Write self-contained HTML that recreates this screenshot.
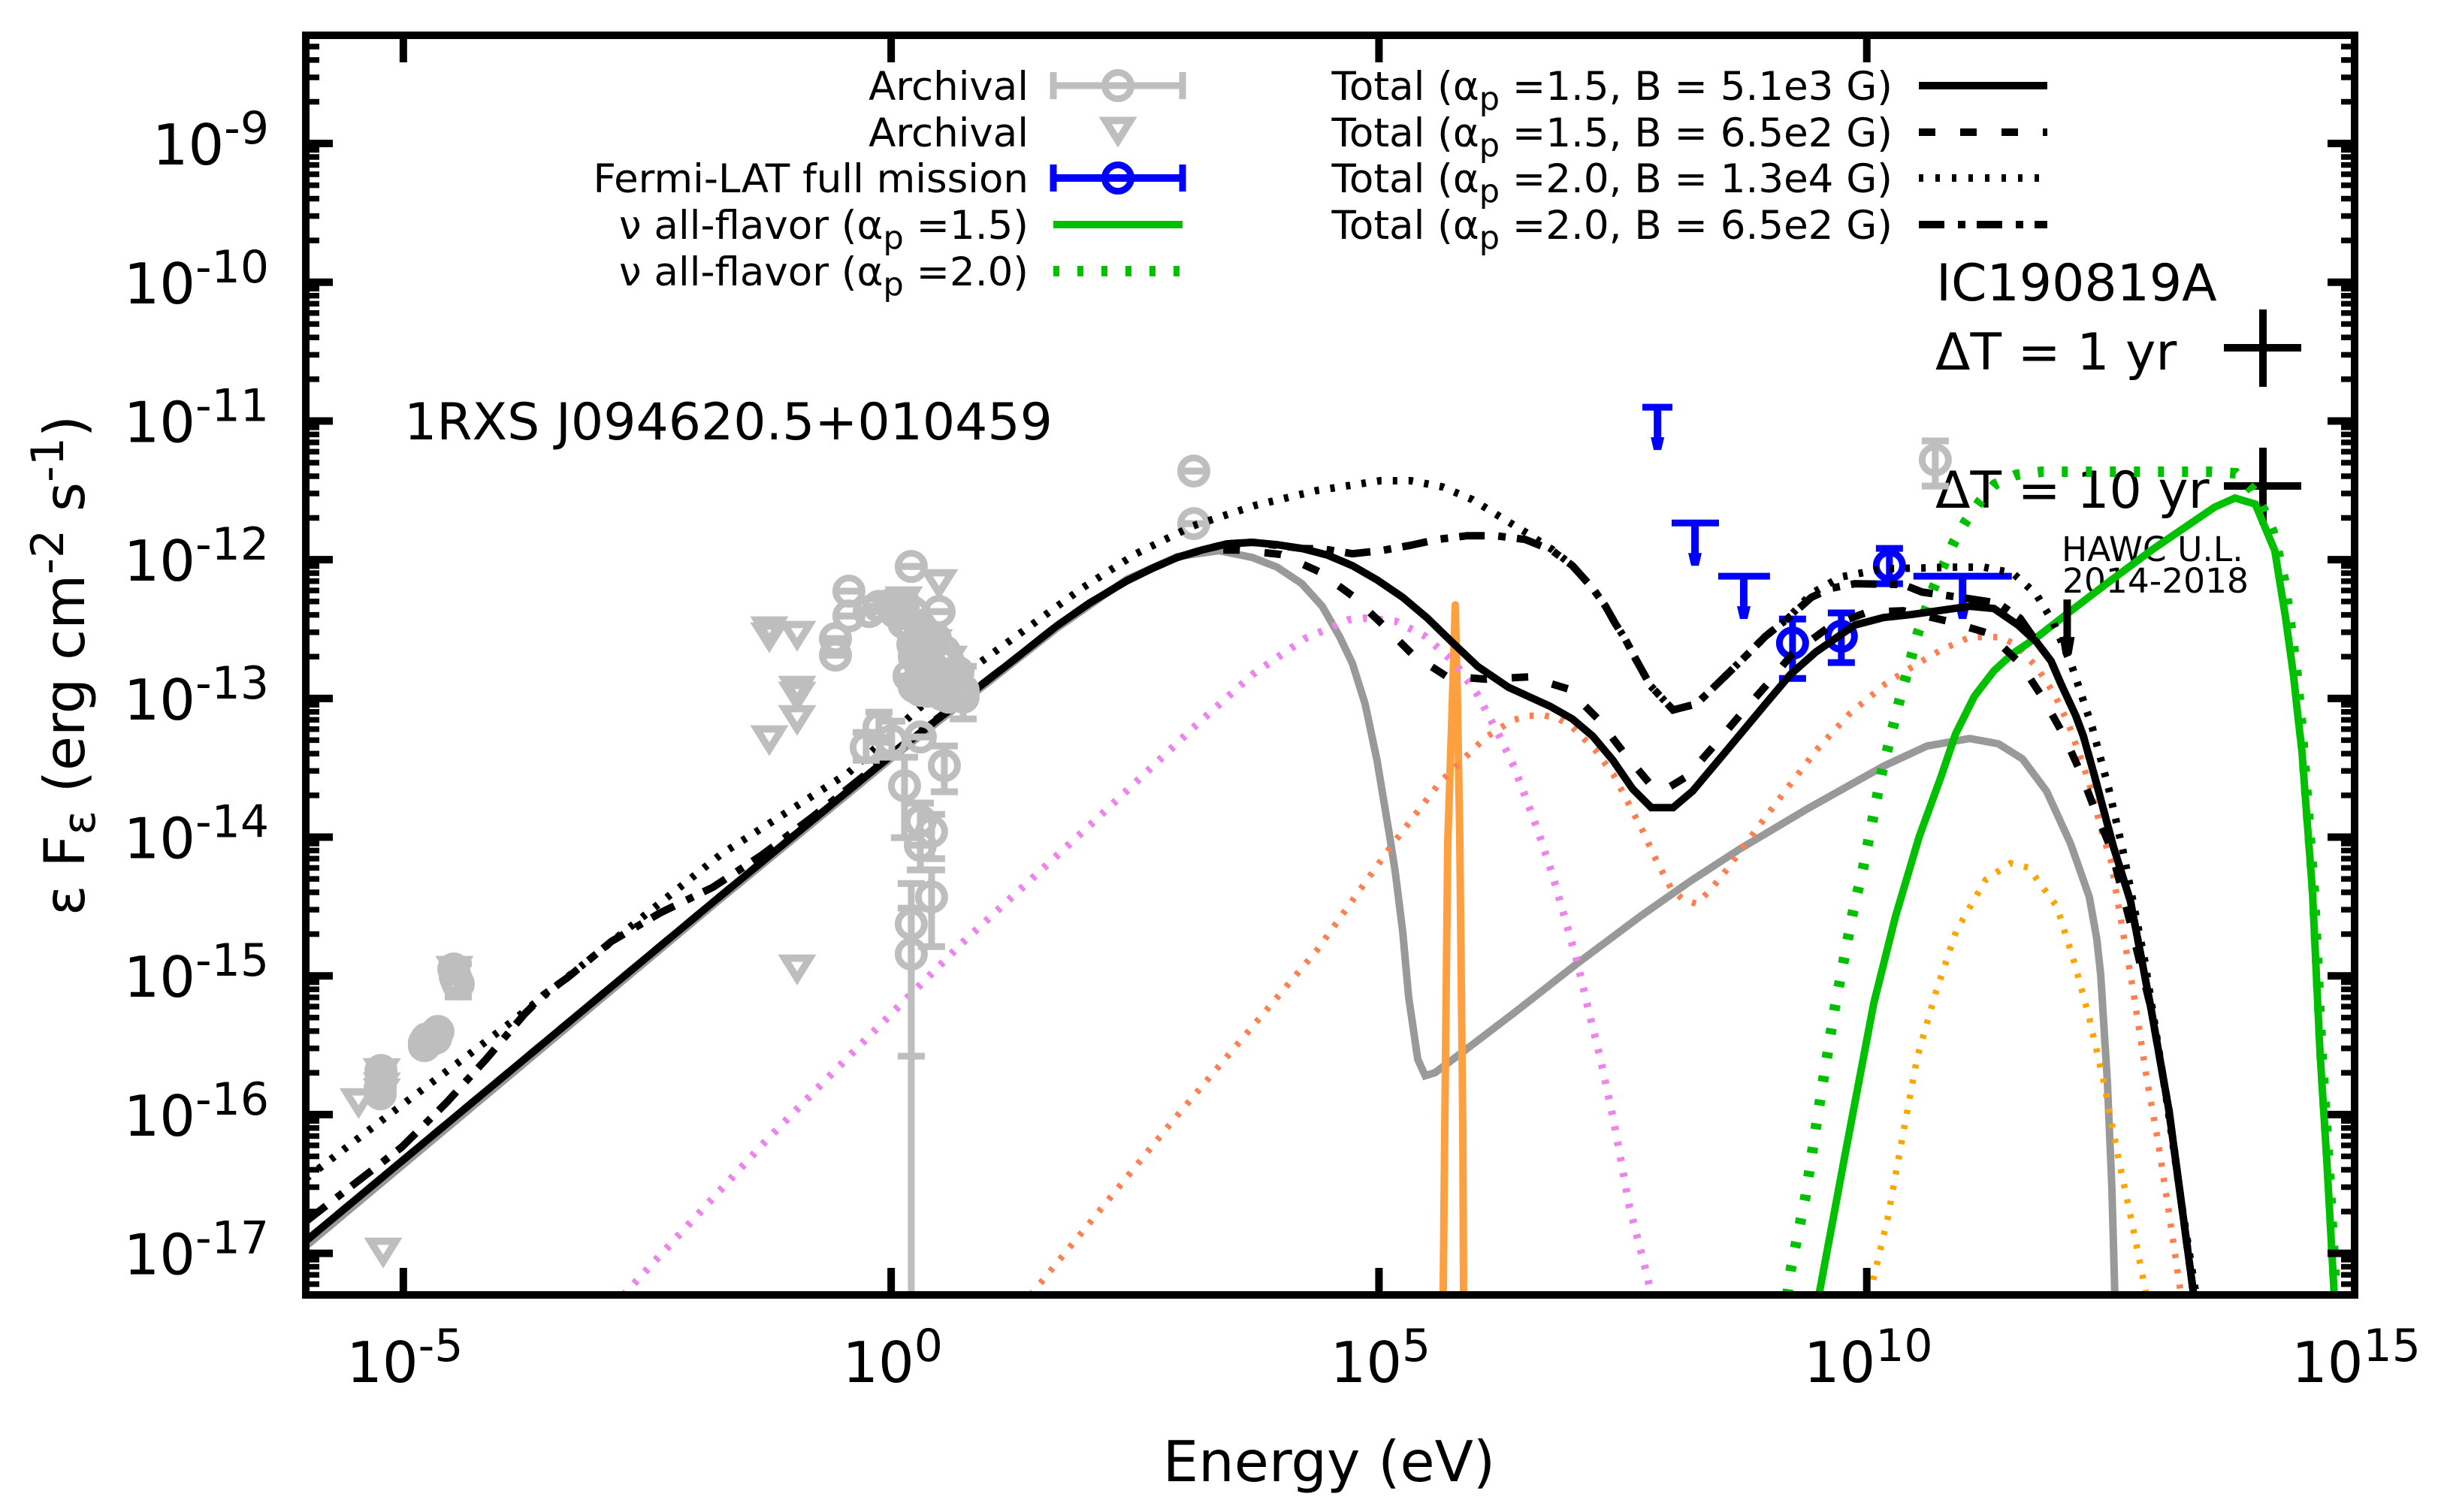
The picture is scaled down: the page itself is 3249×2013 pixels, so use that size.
<!DOCTYPE html>
<html lang="en">
<head>
<meta charset="utf-8">
<title>1RXS J094620.5+010459 SED</title>
<style>
html,body{margin:0;padding:0;background:#fff;}
svg{display:block;}
text{font-family:"DejaVu Sans","Liberation Sans",sans-serif;fill:#000;}
.leg{font-size:53px;text-anchor:end;}
.big{font-size:68px;}
.hawc{font-size:45.5px;}
.axt{font-size:75px;}
</style>
</head>
<body>
<svg id="chart" xmlns="http://www.w3.org/2000/svg" width="3249" height="2013" viewBox="0 0 3249 2013">
  <defs><clipPath id="plot-clip"><rect x="412" y="52" width="2717" height="1667"/></clipPath></defs>
  <rect x="0" y="0" width="3249" height="2013" fill="#fff"/>

  <g id="annotations">
    <text class="big" x="538" y="585">1RXS J094620.5+010459</text>
    <text class="big" x="2577" y="400">IC190819A</text>
    <text class="big" x="2576" y="492">ΔT = 1 yr</text>
    <text class="big" x="2576" y="676">ΔT = 10 yr</text>
    <text class="hawc" x="2744" y="747">HAWC U.L.</text>
    <text class="hawc" x="2745" y="789">2014-2018</text>
    <g stroke="#000" stroke-width="10">
      <line x1="2960" y1="463" x2="3063" y2="463"/><line x1="3012" y1="412" x2="3012" y2="515"/>
    </g>
    <g stroke="#000" stroke-width="10">
      <line x1="2960" y1="647" x2="3063" y2="647"/><line x1="3012" y1="596" x2="3012" y2="698"/>
    </g>
  </g>

  <g id="marks-under" clip-path="url(#plot-clip)"></g>
  <g id="curves" clip-path="url(#plot-clip)"></g>
  <g id="marks-over" clip-path="url(#plot-clip)"></g>

  <g>
    <text class="leg" x="1369" y="133">Archival</text>
    <text class="leg" x="1369" y="195">Archival</text>
    <text class="leg" x="1369" y="256">Fermi-LAT full mission</text>
    <text class="leg" x="1369" y="318">ν all-flavor (α<tspan font-size="43" dy="13">p</tspan><tspan dy="-13"> =1.5)</tspan></text>
    <text class="leg" x="1369" y="380">ν all-flavor (α<tspan font-size="43" dy="13">p</tspan><tspan dy="-13"> =2.0)</tspan></text>
    <g stroke="#bebebe" stroke-width="9" fill="none">
      <line x1="1402" y1="114" x2="1574" y2="114"/><line x1="1402" y1="96" x2="1402" y2="132"/><line x1="1574" y1="96" x2="1574" y2="132"/><circle cx="1488" cy="114" r="17.5"/>
    </g>
    <polygon points="1471.2,160.4 1504.8,160.4 1488,187.3" fill="none" stroke="#bebebe" stroke-width="9.7"/>
    <g stroke="#0000ff" stroke-width="9" fill="none">
      <line x1="1402" y1="237" x2="1574" y2="237" stroke-width="10"/><line x1="1402" y1="219" x2="1402" y2="255"/><line x1="1574" y1="219" x2="1574" y2="255"/><circle cx="1488" cy="237" r="17.5"/>
    </g>
    <line x1="1402" y1="299" x2="1574" y2="299" stroke="#00c000" stroke-width="10"/>
    <line x1="1402" y1="361" x2="1574" y2="361" stroke="#00c000" stroke-width="14" stroke-dasharray="8 24"/>
  </g>

  <g>
    <text class="leg" x="2519" y="133">Total (α<tspan font-size="43" dy="13">p</tspan><tspan dy="-13"> =1.5, B = 5.1e3 G)</tspan></text>
    <text class="leg" x="2519" y="195">Total (α<tspan font-size="43" dy="13">p</tspan><tspan dy="-13"> =1.5, B = 6.5e2 G)</tspan></text>
    <text class="leg" x="2519" y="256">Total (α<tspan font-size="43" dy="13">p</tspan><tspan dy="-13"> =2.0, B = 1.3e4 G)</tspan></text>
    <text class="leg" x="2519" y="318">Total (α<tspan font-size="43" dy="13">p</tspan><tspan dy="-13"> =2.0, B = 6.5e2 G)</tspan></text>
    <line x1="2554" y1="114" x2="2725" y2="114" stroke="#000" stroke-width="10"/>
    <line x1="2554" y1="176" x2="2725" y2="176" stroke="#000" stroke-width="10" stroke-dasharray="22 33"/>
    <path d="M2554 237H2725" fill="none" stroke="#000" stroke-width="10" stroke-dasharray="6 16"/>
    <line x1="2554" y1="299" x2="2725" y2="299" stroke="#000" stroke-width="10" stroke-dasharray="34 18 10 15"/>
  </g>

  <g id="axes"></g>
  <rect x="407" y="47" width="2727" height="1677" fill="none" stroke="#000" stroke-width="10"/>
  <text class="axt" x="1769" y="1972" text-anchor="middle">Energy (eV)</text>
  <text class="axt" transform="translate(112,886) rotate(-90)" text-anchor="middle">ε F<tspan font-size="60" dy="14">ε</tspan><tspan dy="-14"> (erg cm</tspan><tspan font-size="60" dy="-28">-2</tspan><tspan dy="28"> s</tspan><tspan font-size="60" dy="-28">-1</tspan><tspan dy="28">)</tspan></text>
</svg>

<script>
// All series: [log10(E / eV), log10(flux)].
const xTickExponents = [-5, 0, 5, 10, 15];
const yTickExponents = [-9, -10, -11, -12, -13, -14, -15, -16, -17];

const totalAlpha15B5e3 = [[-6,-16.911],[-1.817,-14.464],[0.006,-13.408],[1.261,-12.72],[1.7,-12.476],[2.031,-12.314],[2.416,-12.152],[2.67,-12.065],[2.932,-11.984],[3.186,-11.93],[3.44,-11.886],[3.702,-11.875],[3.956,-11.892],[4.21,-11.919],[4.472,-11.967],[4.727,-12.043],[4.981,-12.146],[5.243,-12.271],[5.497,-12.422],[5.751,-12.596],[6.012,-12.769],[6.328,-12.92],[6.752,-13.056],[6.983,-13.148],[7.191,-13.272],[7.398,-13.446],[7.599,-13.652],[7.791,-13.787],[8.015,-13.787],[8.215,-13.668],[8.577,-13.365],[8.962,-13.04],[9.216,-12.828],[9.478,-12.666],[9.732,-12.541],[9.878,-12.471],[10.171,-12.417],[10.463,-12.395],[11.056,-12.336],[11.303,-12.352],[11.549,-12.471],[11.741,-12.594],[11.889,-12.731],[11.989,-12.893],[12.143,-13.126],[12.22,-13.272],[12.335,-13.56],[12.527,-14.068],[12.704,-14.464],[12.912,-15.233],[13.097,-15.969],[13.351,-17.301]];

const totalAlpha15B6e2 = [[-6,-16.911],[-1.817,-14.464],[0.006,-13.408],[1.261,-12.72],[1.7,-12.476],[2.031,-12.314],[2.416,-12.152],[2.67,-12.065],[2.932,-11.984],[3.186,-11.93],[3.548,-11.93],[3.995,-11.962],[4.388,-12.087],[4.727,-12.26],[5.042,-12.471],[5.342,-12.682],[5.689,-12.839],[6.097,-12.861],[6.536,-12.845],[6.936,-12.931],[7.245,-13.148],[7.499,-13.381],[7.768,-13.608],[7.922,-13.662],[8.161,-13.56],[8.431,-13.343],[8.7,-13.121],[8.985,-12.893],[9.239,-12.677],[9.632,-12.476],[10.002,-12.379],[10.371,-12.368],[10.833,-12.444],[11.249,-12.531],[11.572,-12.747],[11.795,-12.985],[12.011,-13.256],[12.188,-13.527],[12.335,-13.798],[12.504,-14.085],[12.704,-14.626],[12.912,-15.233],[13.097,-15.969],[13.351,-17.301]];

const totalAlpha20B1e4 = [[-6,-16.462],[-5.769,-16.337],[-5.107,-15.98],[-4.321,-15.563],[-3.929,-15.352],[-1.742,-14.123],[-0.441,-13.538],[0.36,-13.023],[1.955,-12.206],[2.509,-11.957],[3.094,-11.756],[3.725,-11.61],[4.357,-11.502],[5.012,-11.431],[5.327,-11.431],[5.65,-11.475],[5.958,-11.567],[6.243,-11.691],[6.521,-11.81],[6.782,-11.93],[6.983,-12.043],[7.191,-12.206],[7.322,-12.336],[7.422,-12.46],[7.522,-12.569],[7.63,-12.715],[7.784,-12.91],[8.015,-13.083],[8.254,-13.04],[8.446,-12.91],[8.708,-12.731],[8.962,-12.552],[9.193,-12.422],[9.432,-12.244],[9.732,-12.125],[10.171,-12.065],[10.564,-12.06],[10.857,-12.054],[11.203,-12.054],[11.495,-12.097],[11.618,-12.173],[11.741,-12.254],[11.91,-12.449],[12.103,-12.769],[12.31,-13.207],[12.48,-13.652],[12.627,-14.101],[12.85,-14.897],[12.965,-15.411],[13.081,-15.926],[13.235,-16.684],[13.374,-17.301]];

const totalAlpha20B6e2 = [[-6,-16.771],[-5.015,-16.234],[-4.553,-15.91],[-4.152,-15.601],[-3.759,-15.276],[-3.559,-15.135],[-3.313,-15.011],[-2.866,-14.751],[-2.365,-14.545],[-1.826,-14.361],[-1.333,-14.133],[-0.802,-13.852],[0.006,-13.397],[1.261,-12.72],[1.7,-12.476],[2.031,-12.314],[2.416,-12.152],[2.67,-12.065],[2.932,-11.984],[3.186,-11.93],[3.44,-11.886],[3.702,-11.875],[4.21,-11.919],[4.441,-11.924],[4.727,-11.957],[5.02,-11.935],[5.32,-11.897],[5.597,-11.854],[5.905,-11.827],[6.19,-11.827],[6.498,-11.854],[6.767,-11.93],[6.983,-12.043],[7.191,-12.206],[7.322,-12.336],[7.422,-12.46],[7.522,-12.569],[7.63,-12.715],[7.784,-12.91],[8.015,-13.083],[8.254,-13.04],[8.446,-12.91],[8.708,-12.731],[8.962,-12.552],[9.193,-12.422],[9.432,-12.271],[9.632,-12.206],[9.878,-12.173],[10.371,-12.179],[10.564,-12.233],[11.056,-12.282],[11.348,-12.314],[11.572,-12.422],[11.741,-12.594],[11.889,-12.731],[11.989,-12.893],[12.143,-13.126],[12.22,-13.272],[12.335,-13.56],[12.527,-14.068],[12.704,-14.464],[12.912,-15.233],[13.097,-15.969],[13.351,-17.301]];

const protonSynchrotron = [[-6,-16.949],[-1.817,-14.485],[0.006,-13.43],[1.261,-12.736],[1.7,-12.493],[2.031,-12.33],[2.416,-12.141],[2.932,-11.978],[3.362,-11.935],[3.702,-11.984],[3.956,-12.054],[4.21,-12.173],[4.418,-12.336],[4.595,-12.552],[4.727,-12.747],[4.858,-13.04],[4.981,-13.451],[5.112,-14.004],[5.166,-14.247],[5.243,-14.68],[5.304,-15.151],[5.397,-15.601],[5.474,-15.72],[5.574,-15.698],[5.882,-15.536],[6.398,-15.26],[7.037,-14.908],[7.676,-14.572],[8.192,-14.318],[8.7,-14.085],[9.386,-13.798],[10.171,-13.489],[10.617,-13.343],[11.056,-13.289],[11.348,-13.327],[11.595,-13.435],[11.842,-13.668],[12.089,-14.047],[12.281,-14.431],[12.358,-14.735],[12.397,-14.989],[12.466,-15.758],[12.512,-16.522],[12.543,-17.301]];

const violetComponent = [[-2.744,-17.301],[-1.295,-16.197],[-0.356,-15.525],[0.745,-14.751],[2.008,-13.933],[2.493,-13.614],[3.086,-13.218],[3.702,-12.828],[4.241,-12.569],[4.688,-12.433],[4.857,-12.422],[5.172,-12.444],[5.473,-12.552],[5.712,-12.704],[5.82,-12.785],[6.012,-12.975],[6.166,-13.18],[6.243,-13.283],[6.382,-13.489],[6.498,-13.706],[6.613,-13.922],[6.767,-14.247],[6.906,-14.583],[7.037,-14.913],[7.152,-15.26],[7.268,-15.59],[7.406,-16.045],[7.568,-16.668],[7.753,-17.171],[7.791,-17.301]];

const coralComponent = [[1.43,-17.301],[2.9,-16.034],[4.364,-14.816],[4.841,-14.345],[5.127,-14.063],[5.627,-13.603],[6.089,-13.283],[6.366,-13.159],[6.521,-13.126],[6.69,-13.121],[6.844,-13.148],[6.983,-13.207],[7.098,-13.289],[7.214,-13.37],[7.406,-13.554],[7.56,-13.76],[7.706,-13.96],[7.845,-14.171],[7.999,-14.377],[8.115,-14.448],[8.254,-14.48],[8.393,-14.383],[8.601,-14.204],[8.7,-14.101],[9.093,-13.733],[9.486,-13.37],[9.825,-13.11],[10.195,-12.893],[10.463,-12.774],[10.763,-12.65],[11.056,-12.558],[11.372,-12.558],[11.526,-12.612],[11.741,-12.774],[11.918,-12.964],[12.065,-13.18],[12.173,-13.392],[12.281,-13.614],[12.404,-13.949],[12.504,-14.177],[12.581,-14.502],[12.727,-15.092],[12.874,-15.758],[12.982,-16.18],[13.097,-16.706],[13.22,-17.301]];

const orangeComponent = [[10.04,-17.301],[10.071,-17.177],[10.217,-16.738],[10.371,-16.142],[10.517,-15.585],[10.702,-15.13],[10.917,-14.675],[11.218,-14.307],[11.472,-14.188],[11.657,-14.22],[11.95,-14.502],[12.134,-14.919],[12.281,-15.303],[12.427,-15.758],[12.581,-16.321],[12.727,-16.809],[12.866,-17.301]];

const electronLineSpike = [[5.658,-17.301],[5.674,-16.088],[5.705,-14.031],[5.751,-13.04],[5.782,-12.325],[5.805,-13.04],[5.828,-14.031],[5.859,-16.088],[5.867,-17.301]];

const neutrinoAlpha15 = [[9.509,-17.301],[9.779,-16.283],[10.071,-15.2],[10.294,-14.572],[10.537,-13.998],[10.763,-13.56],[10.91,-13.256],[11.102,-12.985],[11.303,-12.801],[11.495,-12.677],[11.757,-12.552],[12.003,-12.417],[12.427,-12.189],[12.943,-11.919],[13.566,-11.621],[13.774,-11.556],[13.982,-11.599],[14.182,-11.935],[14.236,-12.173],[14.29,-12.406],[14.329,-12.606],[14.375,-12.839],[14.413,-13.094],[14.46,-13.381],[14.568,-14.393],[14.645,-15.547],[14.714,-16.321],[14.791,-17.301]];

const neutrinoAlpha20 = [[9.185,-17.301],[9.224,-17.106],[9.37,-16.597],[9.517,-15.915],[9.671,-15.233],[9.855,-14.55],[9.963,-14.22],[10.155,-13.532],[10.332,-13.023],[10.525,-12.525],[10.686,-12.2],[10.887,-11.881],[11.003,-11.735],[11.157,-11.583],[11.311,-11.458],[11.534,-11.388],[11.796,-11.366],[13.513,-11.366],[13.782,-11.377],[13.952,-11.496],[14.067,-11.643],[14.16,-11.8],[14.221,-11.973],[14.275,-12.146],[14.344,-12.487],[14.406,-12.828],[14.452,-13.175],[14.583,-14.393],[14.66,-15.547],[14.73,-16.321],[14.807,-17.301]];

// Archival detections: [logE, logF, logF upper, logF lower]
const archivalHighPoints = [[3.102,-11.361,-11.361,-11.361],[3.102,-11.74,-11.74,-11.74]];
const archivalPoints = [
[0.206,-12.049,-12.049,-12.049],[-0.433,-12.227,-12.227,-12.227],[-0.433,-12.406,-12.406,-12.406],[-0.571,-12.569,-12.569,-12.569],[-0.571,-12.688,-12.688,-12.688],[-0.125,-12.336,-12.336,-12.336],[-0.225,-12.374,-12.374,-12.374],[0.129,-12.314,-12.314,-12.314],[0.491,-12.374,-12.374,-12.374],[0.129,-12.455,-12.455,-12.455],[0.206,-12.482,-12.482,-12.482],[0.283,-12.579,-12.579,-12.579],[0.391,-12.65,-12.65,-12.65],[0.545,-12.661,-12.661,-12.661],[0.237,-12.699,-12.699,-12.699],[0.391,-12.774,-12.774,-12.774],[0.283,-12.866,-12.866,-12.866],[0.437,-12.893,-12.893,-12.893],[0.568,-12.942,-12.942,-12.942],[0.738,-12.942,-12.769,-13.148],[0.738,-12.991,-12.991,-12.991],[0.237,-12.915,-12.915,-12.915],[0.591,-12.991,-12.991,-12.991],[0.391,-12.818,-12.818,-12.818],[0.491,-12.845,-12.845,-12.845],[0.045,-12.379,-12.379,-12.379],[0.299,-12.482,-12.482,-12.482],[0.299,-12.699,-12.699,-12.699],[0.299,-12.942,-12.942,-12.991],
[0.068,-12.325,-12.325,-12.325],[0.222,-12.379,-12.379,-12.379],[0.322,-12.504,-12.504,-12.504],[0.453,-12.569,-12.569,-12.569],[0.584,-12.731,-12.731,-12.731],[0.684,-12.812,-12.812,-12.812],[0.491,-12.731,-12.731,-12.731],[0.36,-12.677,-12.677,-12.677],[0.222,-12.612,-12.612,-12.612],[0.183,-12.839,-12.839,-12.839],[0.376,-12.948,-12.948,-12.948],[0.53,-12.975,-12.975,-12.975],[0.684,-12.958,-12.958,-12.958],[-0.009,-12.325,-12.325,-12.325],
[-0.125,-13.207,-13.099,-13.316],[-0.256,-13.354,-13.245,-13.446],[0.006,-13.305,-13.164,-13.424],[0.299,-13.278,-13.278,-13.278],[0.545,-13.484,-13.343,-13.673],[0.137,-13.63,-13.424,-14.004],[0.299,-13.884,-13.754,-14.058],[0.414,-13.96,-13.836,-14.155],[0.299,-14.058,-13.754,-14.236],[0.414,-14.431,-14.236,-14.789],[0.206,-14.626,-14.334,-15.579],[0.206,-14.843,-14.512,-19],
[-5.229,-15.682,-15.682,-15.682],[-5.229,-15.753,-15.753,-15.753],[-5.237,-15.807,-15.807,-15.807],[-5.237,-15.85,-15.85,-15.85],
[-4.784,-15.482,-15.482,-15.482],[-4.746,-15.466,-15.466,-15.466],[-4.73,-15.455,-15.455,-15.455],[-4.684,-15.428,-15.428,-15.428],[-4.645,-15.401,-15.401,-15.401],[-4.761,-15.455,-15.455,-15.455],[-4.669,-15.449,-15.449,-15.449],[-4.784,-15.503,-15.503,-15.503],
[-4.483,-14.951,-14.951,-14.951],[-4.468,-15.005,-15.005,-15.005],[-4.453,-15.032,-15.032,-15.032],[-4.437,-15.059,-14.913,-15.152],
[10.702,-11.28,-11.144,-11.469]];

// Archival upper limits: [logE, logF]
const archivalLimits = [[-5.221,-15.704],[-5.221,-15.807],[-5.221,-15.85],[-5.459,-15.921],[-5.207,-16.998],[-4.476,-14.967],[-0.964,-14.957],[-1.249,-12.52],[-1.249,-12.563],[-0.964,-12.552],[-0.964,-12.948],[-0.964,-12.991],[-0.964,-13.159],[-1.249,-13.305],[0.491,-12.179],[0.129,-12.303],[0.437,-12.612],[0.591,-12.731]];

// Fermi-LAT detections: [logE, logF, logF upper, logF lower]
const fermiPoints = [[9.239,-12.601,-12.428,-12.856],[9.739,-12.552,-12.384,-12.742],[10.232,-12.043,-11.919,-12.173]];
// Fermi-LAT upper limits: [logE centre, logE low, logE high, logF]
const fermiLimits = [[7.855,7.7,8.008,-10.901],[8.239,8,8.485,-11.735],[8.739,8.477,9.008,-12.119],[10.982,10.478,11.487,-12.119]];
// HAWC upper limit: [logE, logF]
const hawcLimit = [12.054,-12.287];

const NS = 'http://www.w3.org/2000/svg';
const xMinLog = -6, xMaxLog = 15, yMinLog = -17.3, yMaxLog = -8.22;
const plotL = 407, plotR = 3134, plotT = 47, plotB = 1724;
function xAxis(v){ return plotL + (v - xMinLog) * (plotR - plotL) / (xMaxLog - xMinLog); }
function yAxis(v){ return plotT + (yMaxLog - v) * (plotB - plotT) / (yMaxLog - yMinLog); }
function mk(tag, parent, attrs){
  const el = document.createElementNS(NS, tag);
  for (const k in attrs) el.setAttribute(k, attrs[k]);
  parent.appendChild(el);
  return el;
}
function curve(parent, pts, color, width, dash){
  const attrs = {points: pts.map(p => xAxis(p[0]).toFixed(1) + ',' + yAxis(p[1]).toFixed(1)).join(' '), fill:'none', stroke:color, 'stroke-width':width};
  if (dash) attrs['stroke-dasharray'] = dash;
  return mk('polyline', parent, attrs);
}

const under = document.getElementById('marks-under');
const curvesG = document.getElementById('curves');
const over = document.getElementById('marks-over');
const axes = document.getElementById('axes');

function errorPoint(parent, p, color){
  const g = mk('g', parent, {stroke:color, 'stroke-width':9, fill:'none'});
  const cx = xAxis(p[0]);
  mk('line', g, {x1:cx, x2:cx, y1:yAxis(p[2]), y2:yAxis(p[3])});
  mk('line', g, {x1:cx-18, x2:cx+18, y1:yAxis(p[2]), y2:yAxis(p[2])});
  mk('line', g, {x1:cx-18, x2:cx+18, y1:yAxis(p[3]), y2:yAxis(p[3])});
  mk('circle', g, {cx:cx, cy:yAxis(p[1]), r:17.5});
  return g;
}

// Fermi limits and detections sit under the curves
fermiLimits.forEach(function(u){
  const g = mk('g', under, {});
  
  
  const cx = xAxis(u[0]), cy = yAxis(u[3]);
  mk('line', g, {x1:xAxis(u[1]), x2:xAxis(u[2]), y1:cy, y2:cy, stroke:'#0000ff', 'stroke-width':9});
  mk('line', g, {x1:cx, x2:cx, y1:cy, y2:cy+42, stroke:'#0000ff', 'stroke-width':10});
  mk('polygon', g, {points:(cx-9)+','+(cy+40)+' '+(cx+9)+','+(cy+40)+' '+(cx+5)+','+(cy+57)+' '+(cx-5)+','+(cy+57), fill:'#0000ff'});
});
fermiPoints.forEach(function(p){
  const g = errorPoint(under, p, '#0000ff');
  
  
});
archivalHighPoints.forEach(function(p){
  const g = errorPoint(under, p, '#bebebe');
  
  
});

// Curves, back to front
const cProton = curve(curvesG, protonSynchrotron, '#999999', 10);


const cSpike = curve(curvesG, electronLineSpike, '#ffa040', 10);
cSpike.setAttribute('stroke-linejoin', 'round');


const cViolet = curve(curvesG, violetComponent, '#ee82ee', 10, '5.5 15.5');


const cCoral = curve(curvesG, coralComponent, '#ff7f50', 8.5, '5.5 15');


const cOrange = curve(curvesG, orangeComponent, '#ffa500', 8.5, '5.5 15');


const cNu15 = curve(curvesG, neutrinoAlpha15, '#00c000', 10);


const cNu20 = curve(curvesG, neutrinoAlpha20, '#00c000', 14, '8 24');


const cTotB = curve(curvesG, totalAlpha15B6e2, '#000', 10, '22 33');


const cTotD = curve(curvesG, totalAlpha20B6e2, '#000', 10, '34 18 10 15');


const cTotC = curve(curvesG, totalAlpha20B1e4, '#000', 10, '6 15');


const cTotA = curve(curvesG, totalAlpha15B5e3, '#000', 10);



// HAWC arrow
(function(){
  const g = mk('g', curvesG, {});
  
  
  const cx = xAxis(hawcLimit[0]), cy = yAxis(hawcLimit[1]);
  mk('line', g, {x1:cx, x2:cx, y1:cy, y2:cy+55, stroke:'#000', 'stroke-width':10});
  mk('polygon', g, {points:(cx-10)+','+(cy+50)+' '+(cx+10)+','+(cy+50)+' '+(cx+6)+','+(cy+73)+' '+(cx-6)+','+(cy+73), fill:'#000'});
})();

// Archival marks over the curves
archivalLimits.forEach(function(p){
  const cx = xAxis(p[0]), cy = yAxis(p[1]);
  const t = mk('polygon', over, {points:(cx-16.8)+','+(cy-15.65)+' '+(cx+16.8)+','+(cy-15.65)+' '+cx+','+(cy+11.3), fill:'none', stroke:'#bebebe', 'stroke-width':9.7});
  
  
});
archivalPoints.forEach(function(p){
  const g = errorPoint(over, p, '#bebebe');
  
  
});

// Axes ticks and labels
xTickExponents.forEach(function(v){
  const px = xAxis(v);
  const tb = mk('line', axes, {x1:px, x2:px, y1:plotB, y2:plotB-36, stroke:'#000', 'stroke-width':10});
  
  
  const tt = mk('line', axes, {x1:px, x2:px, y1:plotT, y2:plotT+36, stroke:'#000', 'stroke-width':10});
  
  
  const lab = mk('text', axes, {x:px+2, y:1840, 'text-anchor':'middle', 'font-size':75});
  
  
  lab.appendChild(document.createTextNode('10'));
  const sup = mk('tspan', lab, {'font-size':60, dy:-28});
  sup.textContent = String(v);
});
yTickExponents.forEach(function(v){
  const py = yAxis(v);
  const tl = mk('line', axes, {x1:plotL, x2:plotL+36, y1:py, y2:py, stroke:'#000', 'stroke-width':10});
  
  
  const tr = mk('line', axes, {x1:plotR, x2:plotR-36, y1:py, y2:py, stroke:'#000', 'stroke-width':10});
  
  
  const lab = mk('text', axes, {x:358, y:py+28, 'text-anchor':'end', 'font-size':75});
  
  
  lab.appendChild(document.createTextNode('10'));
  const sup = mk('tspan', lab, {'font-size':60, dy:-28});
  sup.textContent = String(v);
});
for (let d = -18; d <= -9; d++){
  for (let m = 2; m <= 9; m++){
    const lv = d + Math.log10(m);
    if (lv < yMinLog || lv > yMaxLog) continue;
    const py = yAxis(lv);
    const ml = mk('line', axes, {x1:plotL, x2:plotL+18, y1:py, y2:py, stroke:'#000', 'stroke-width':7.5});
    
    
    const mr = mk('line', axes, {x1:plotR, x2:plotR-18, y1:py, y2:py, stroke:'#000', 'stroke-width':7.5});
    
    
  }
}
</script>
</body>
</html>
